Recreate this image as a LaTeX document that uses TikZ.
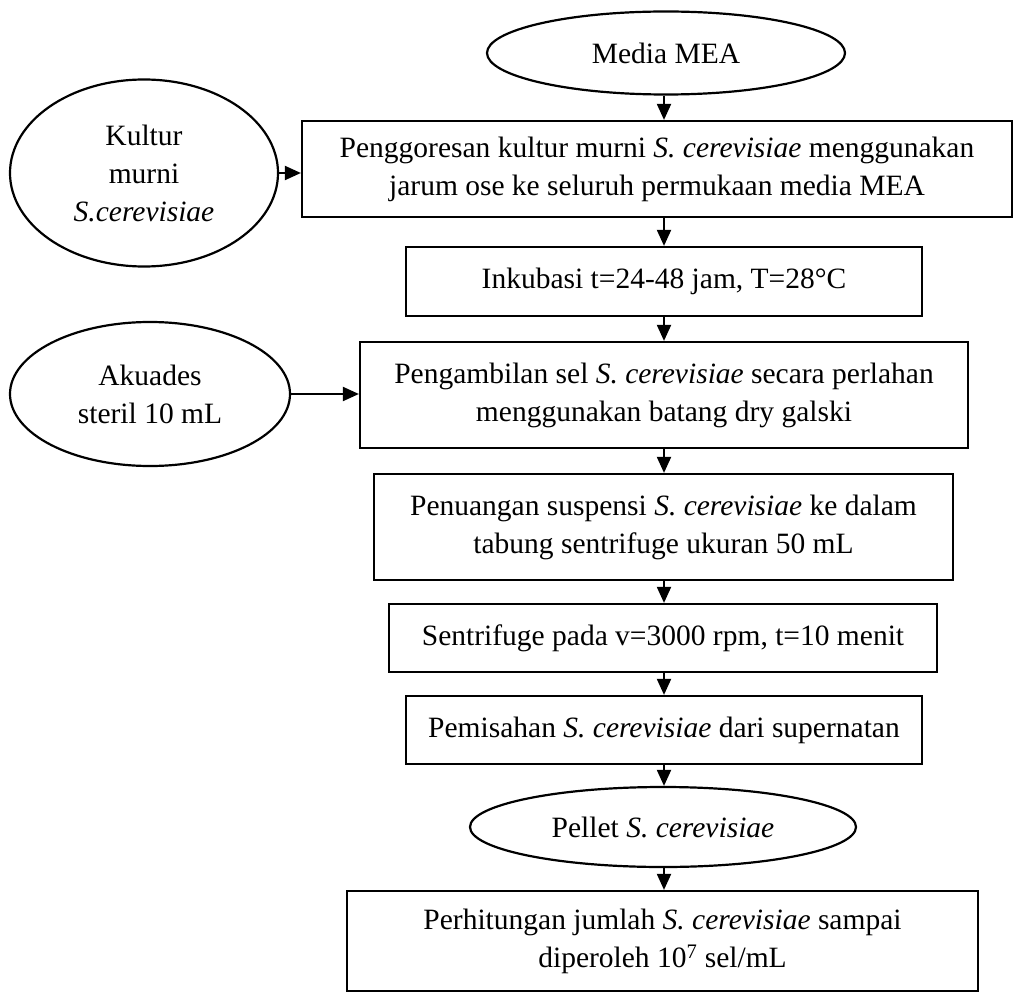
\documentclass[tikz,border=0pt]{standalone}
\usepackage{fontspec}
\setmainfont{Liberation Serif}
\usetikzlibrary{shapes.geometric,arrows.meta}
\begin{document}
\begin{tikzpicture}[x=1pt,y=-1pt,
  font=\fontsize{29.5}{38}\selectfont,
  box/.style={draw, line width=2.2pt, rectangle, align=center, inner sep=0pt},
  oval/.style={draw, ellipse, line width=2.2pt, align=center, inner sep=0pt},
  arr/.style={-{Triangle[length=16pt,width=14pt]}, line width=2pt}]
\useasboundingbox (0,0) rectangle (1014,992);

% process chain
\node[oval, minimum width=358, minimum height=83] (mea) at (666,53) {Media MEA};
\node[box, minimum width=710, minimum height=96] (b1) at (657,169)
  {Penggoresan kultur murni \textit{S. cerevisiae} menggunakan\\jarum ose ke seluruh permukaan media MEA};
\node[box, minimum width=516, minimum height=69] (b2) at (664,281.5)
  {Inkubasi t=24-48 jam, T=28°C};
\node[box, minimum width=608, minimum height=106] (b3) at (664,395)
  {Pengambilan sel \textit{S. cerevisiae} secara perlahan\\menggunakan batang dry galski};
\node[box, minimum width=579, minimum height=106] (b4) at (663.5,527)
  {Penuangan suspensi \textit{S. cerevisiae} ke dalam\\tabung sentrifuge ukuran 50 mL};
\node[box, minimum width=548, minimum height=68] (b5) at (663,638)
  {Sentrifuge pada v=3000 rpm, t=10 menit};
\node[box, minimum width=516, minimum height=68] (b6) at (664,730)
  {Pemisahan \textit{S. cerevisiae} dari supernatan};
\node[oval, minimum width=386, minimum height=80] (pellet) at (663,827)
  {Pellet \textit{S. cerevisiae}};
\node[box, minimum width=631, minimum height=100] (b7) at (662.5,941)
  {Perhitungan jumlah \textit{S. cerevisiae} sampai\\diperoleh 10\textsuperscript{7} sel/mL};

% side inputs
\node[oval, minimum width=268, minimum height=187] (kultur) at (144,173)
  {Kultur\\murni\\\textit{S.cerevisiae}};
\node[oval, minimum width=280, minimum height=144] (akuades) at (150,394)
  {Akuades\\steril 10 mL};

% connectors
\coordinate (axis) at (664,0);
\draw[arr] (mea.south -| axis) -- (b1.north -| axis);
\draw[arr] (b1.south -| axis) -- (b2.north -| axis);
\draw[arr] (b2.south -| axis) -- (b3.north -| axis);
\draw[arr] (b3.south -| axis) -- (b4.north -| axis);
\draw[arr] (b4.south -| axis) -- (b5.north -| axis);
\draw[arr] (b5.south -| axis) -- (b6.north -| axis);
\draw[arr] (b6.south -| axis) -- (pellet.north -| axis);
\draw[arr] (pellet.south -| axis) -- (b7.north -| axis);
\draw[arr] (kultur.east) -- (kultur.east -| b1.west);
\draw[arr] (akuades.east) -- (akuades.east -| b3.west);
\end{tikzpicture}
\end{document}
